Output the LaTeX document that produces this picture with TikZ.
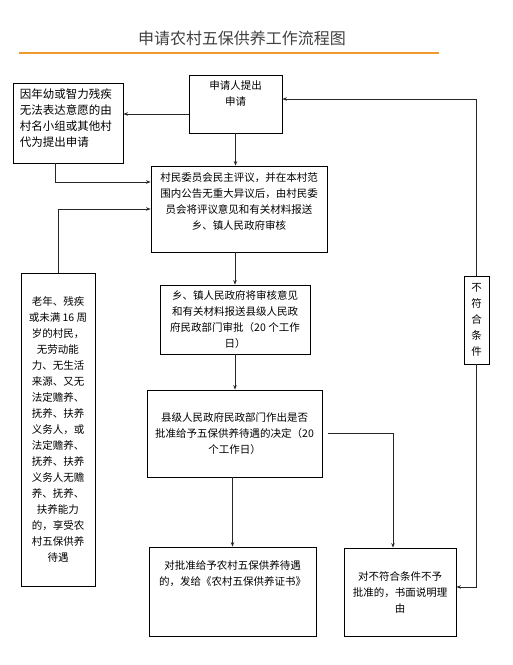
\documentclass[tikz,border=0pt]{standalone}
\usepackage{fontspec}
\newfontfamily\cjk{Noto Sans CJK SC}
\usetikzlibrary{arrows.meta}
\definecolor{titlegray}{HTML}{404040}
\definecolor{ruleorange}{HTML}{EE9A2C}

\begin{document}
\begin{tikzpicture}[x=1pt, y=-1pt,
    box/.style={draw, line width=0.8pt, inner sep=0pt},
    txt/.style={font=\cjk\fontsize{10.5}{16}\selectfont, align=center, inner sep=0pt},
    arr/.style={-{Stealth[length=4.5pt, width=3.5pt]}, line width=0.8pt, black!85}]
    \useasboundingbox (0,0) rectangle (513,665);
    % title and rule
    \node[font=\cjk\fontsize{16}{18}\selectfont, text=titlegray] (title) at (242,38) {申请农村五保供养工作流程图};
    \draw[ruleorange, line width=1.1pt] (19,53) -- (439,53);
    % main column
    \node[box, minimum width=93, minimum height=58,
      label={[txt, anchor=north, yshift=-6pt]north:{申请人提出\\申请}}] (A) at (235.5,104) {};
    \node[box, minimum width=176, minimum height=86,
      label={[txt, anchor=north, yshift=-7pt]north:{村民委员会民主评议，并在本村范\\围内公告无重大异议后，由村民委\\员会将评议意见和有关材料报送\\乡、镇人民政府审核}}] (B) at (239,209) {};
    \node[box, txt, minimum width=150, minimum height=69] (C) at (235,319.5)
      {乡、镇人民政府将审核意见\\和有关材料报送县级人民政\\府民政部门审批（20 个工作\\日）};
    \node[box, txt, minimum width=175, minimum height=87] (D) at (234.5,433.5)
      {县级人民政府民政部门作出是否\\批准给予五保供养待遇的决定（20\\个工作日）};
    \node[box, minimum width=167, minimum height=89,
      label={[txt, anchor=north, yshift=-14pt]north:{对批准给予农村五保供养待遇\\的，发给《农村五保供养证书》}}] (E) at (232.5,591.5) {};
    \node[box, txt, minimum width=112, minimum height=88] (F) at (400,592)
      {对不符合条件不予\\批准的，书面说明理\\由};
    % left side boxes
    \node[box, minimum width=110, minimum height=80,
      label={[txt, font=\cjk\fontsize{11.5}{16}\selectfont, align=left, anchor=north west, xshift=7pt, yshift=-6pt]north west:{因年幼或智力残疾\\无法表达意愿的由\\村名小组或其他村\\代为提出申请}}] (L1) at (68,123) {};
    \node[box, txt, minimum width=74, minimum height=313] (L2) at (58,429.5)
      {老年、残疾\\或未满 16 周\\岁的村民，\\无劳动能\\力、无生活\\来源、又无\\法定赡养、\\抚养、扶养\\义务人，或\\法定赡养、\\抚养、扶养\\义务人无赡\\养、抚养、\\扶养能力\\的，享受农\\村五保供养\\待遇};
    % right side label box
    \node[box, txt, minimum width=25, minimum height=88] (G) at (476.5,320)
      {不\\符\\合\\条\\件};
    % connectors
    \draw[arr] ([yshift=-10pt]A.west) coordinate (a1) -- (a1 -| L1.east);
    \draw[arr] (A.south) -- (A.south |- B.north);
    \draw[arr] ([xshift=-13pt]L1.south) |- ([yshift=27pt]B.west);
    \draw[arr] (L2.north) |- (B.west);
    \draw[arr] (C.north |- B.south) -- (C.north);
    \draw[arr] (C.south) -- (C.south |- D.north);
    \draw[arr] (E.north |- D.south) -- (E.north);
    \draw[arr, shorten <=6pt] (D.east) -| ([xshift=-7pt]F.north);
    % not eligible loop
    \draw[arr] (G.north) |- ([yshift=5pt]A.east);
    \draw[arr] (G.south) |- ([yshift=5pt]F.east);
\end{tikzpicture}
\end{document}
